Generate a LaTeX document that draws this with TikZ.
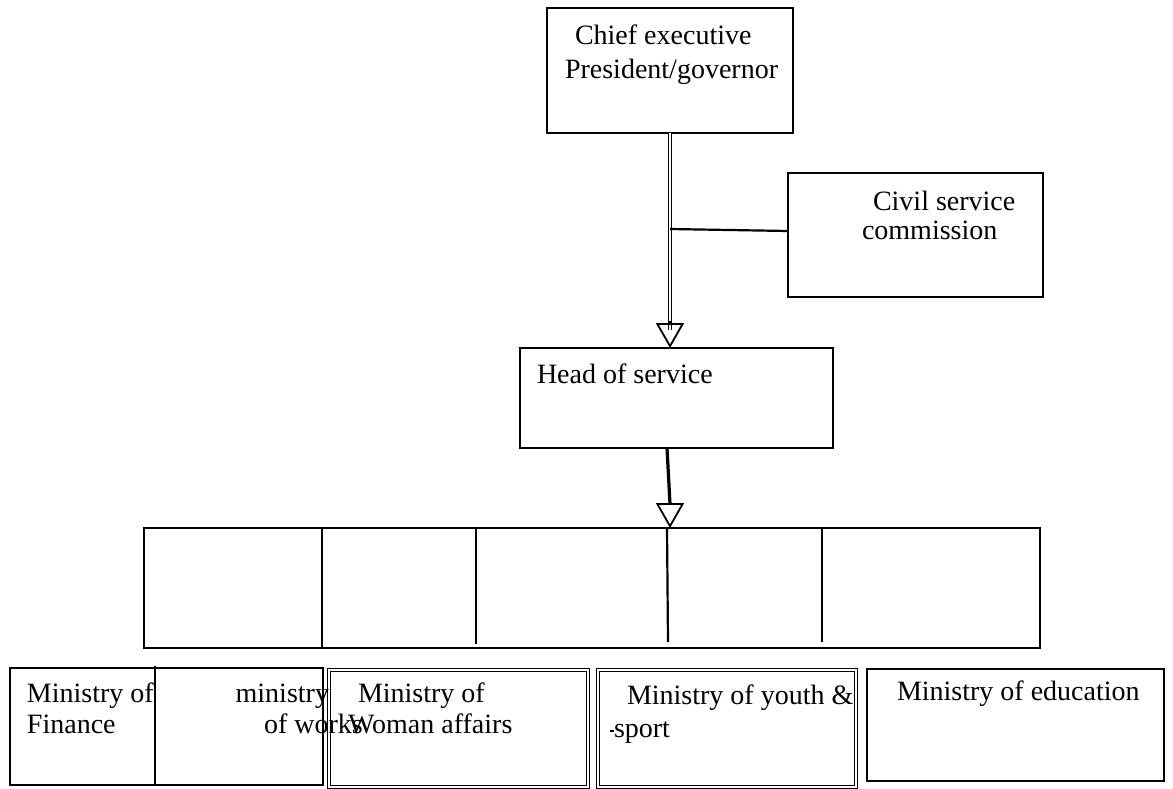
\documentclass[tikz,border=0pt]{standalone}
\usepackage{fontspec}
\setmainfont{Liberation Serif}
\usetikzlibrary{arrows.meta,calc}
\tikzset{
  box/.style={draw, line width=2.6pt, rectangle, inner sep=0pt, outer sep=0pt, anchor=north west},
  dbox/.style={draw, double, double distance=1.2pt, line width=1.4pt, rectangle, inner sep=0pt, outer sep=0pt, anchor=north west},
  lbl/.style={anchor=base west, inner sep=0pt, outer sep=0pt, font=\fontsize{28}{31}\selectfont},
  rlbl/.style={anchor=base east, inner sep=0pt, outer sep=0pt, font=\fontsize{28}{31}\selectfont},
  dshaft/.style={draw, double, double distance=1.2pt, line width=1.6pt},
  shaft/.style={draw, line width=3.2pt},
  tipline/.style={draw, line width=1.8pt, -{Triangle[open, width=28pt, length=25pt]}},
  link/.style={draw, line width=2.2pt},
  divider/.style={draw, line width=2.2pt}
}
\begin{document}
\begin{tikzpicture}[x=1pt,y=-1pt]
\useasboundingbox[fill=white] (0,0) rectangle (1173,789);

% boxes
\node[box, minimum width=246pt, minimum height=125pt] (chief) at (547,8) {};
\node[box, minimum width=255pt, minimum height=124pt] (civil) at (788,173) {};
\node[box, minimum width=313pt, minimum height=100pt] (head) at (520,348) {};
\node[box, minimum width=896pt, minimum height=120pt] (big) at (144,528) {};
\node[box, minimum width=313pt, minimum height=117pt] (fin) at (10,668) {};
\node[dbox, minimum width=259pt, minimum height=117pt] (wom) at (329,670) {};
\node[dbox, minimum width=258pt, minimum height=117pt] (youth) at (598,670) {};
\node[box, minimum width=297pt, minimum height=112pt] (edu) at (867,669) {};

% texts
\node[lbl] (t1) at (575,45) {Chief executive};
\node[lbl] (t2) at (565,79) {President/governor};
\node[lbl] (t3) at (873,210) {Civil service};
\node[lbl] (t4) at (862,239) {commission};
\node[lbl] (t5) at (537,383) {Head of service};
\node[lbl] (t6) at (27,702) {Ministry of};
\node[lbl] (t7) at (27,733) {Finance};
\node[rlbl] (t8) at (329,702) {ministry};
\node[lbl] (t9) at (264,733) {of works};
\node[lbl] (t10) at (358,702) {Ministry of};
\node[lbl] (t11) at (348,733) {Woman affairs};
\node[lbl] (t12) at (627,704) {Ministry of youth \&};
\node[lbl] (t13) at (614,737) {sport};
\node[lbl] (t14) at (897,700) {Ministry of education};
\draw[line width=1.5pt] ($(t13.base west)+(-4,-6)$) -- ++(4,0);

% dividers inside the wide box
\draw[divider] (big.north -| 322,0) -- (big.south -| 322,0);
\draw[divider] (big.north -| 476,0) -- (476,644);
\draw[divider] (big.north -| 667,0) -- (668,642);
\draw[divider] (big.north -| 822,0) -- (822,642);
\draw[divider] (155,666) -- (fin.south -| 155,0);

% connectors
\coordinate (a1) at (chief.south |- head.north);
\draw[dshaft] (chief.south) -- ($(a1)+(0,-18)$);
\draw[tipline] ($(a1)+(0,-27)$) -- (a1);

\coordinate (j) at ($(chief.south)+(0,96)$);
\draw[link] (j) -- ($(civil.north west)+(0,58)$);

\coordinate (a2) at (big.north -| chief.south);
\draw[shaft] ([xshift=-9.5pt]head.south) -- ($(a2)+(0,-24)$);
\draw[tipline] ($(a2)+(0,-27)$) -- (a2);
\end{tikzpicture}
\end{document}
